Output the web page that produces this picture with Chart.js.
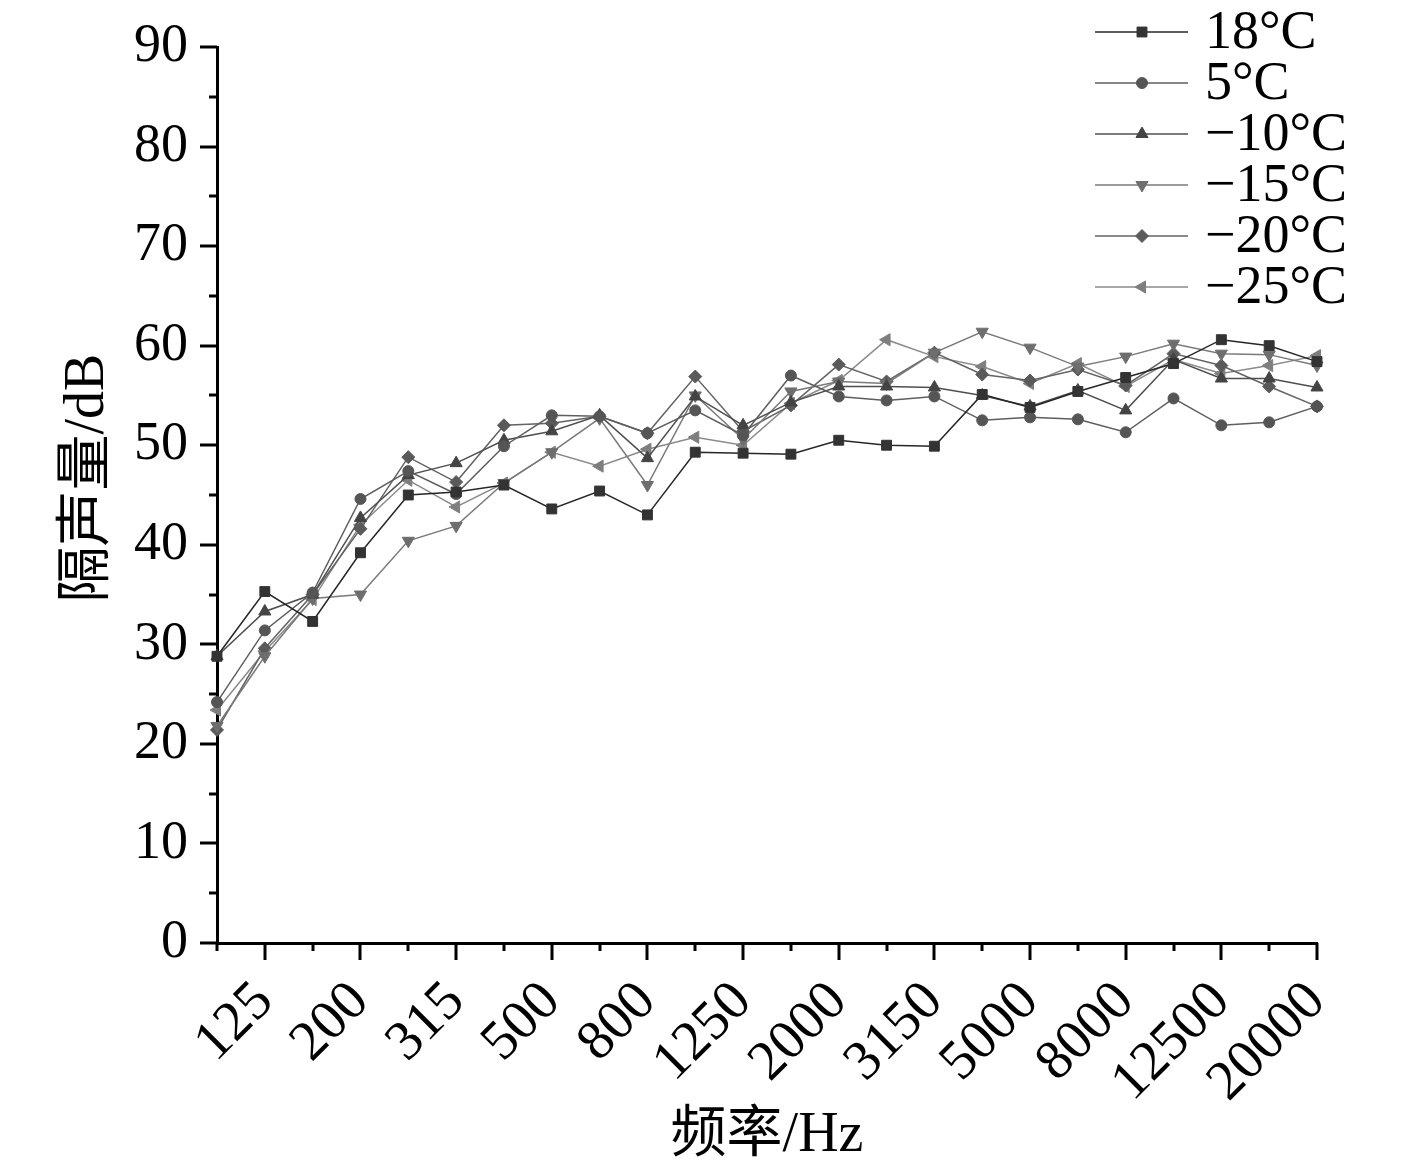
<!DOCTYPE html>
<html>
<head>
<meta charset="utf-8">
<script src="https://cdn.jsdelivr.net/npm/chart.js@4/dist/chart.umd.min.js"></script>
<style>
  body { margin: 0; background: #fff; }
  canvas { display: block; }
</style>
</head>
<body>
<canvas id="c" width="1417" height="1175"></canvas>
<script>
// 1/3 倍频程中心频率
const freqLabels = ['100','125','160','200','250','315','400','500','630','800','1000','1250',
  '1600','2000','2500','3150','4000','5000','6300','8000','10000','12500','16000','20000'];

// 隔声量 (dB)
const t18  = [28.8,35.3,32.3,39.2,45.0,45.3,46.0,43.6,45.4,43.0,49.3,49.2,49.1,50.5,50.0,49.9,55.1,53.8,55.4,56.8,58.2,60.6,60.0,58.4];
const t5   = [24.2,31.4,35.2,44.6,47.4,45.1,49.9,53.0,52.9,51.2,53.5,51.0,57.0,54.9,54.5,54.9,52.5,52.8,52.6,51.3,54.7,52.0,52.3,53.9];
const tm10 = [28.8,33.3,35.0,42.7,47.0,48.2,50.5,51.4,53.0,48.7,54.9,52.0,54.3,55.9,55.9,55.8,55.0,53.9,55.5,53.5,58.6,56.7,56.7,55.8];
const tm15 = [21.8,28.8,34.6,35.0,40.4,41.9,46.2,49.3,52.7,46.0,55.0,50.6,55.4,56.4,56.2,59.3,61.4,59.8,57.9,58.9,60.2,59.2,59.1,58.0];
const tm20 = [21.4,29.6,35.0,41.6,48.8,46.3,52.0,52.2,52.9,51.2,56.9,51.4,54.0,58.1,56.4,59.3,57.1,56.5,57.6,56.0,59.2,58.0,55.9,53.9];
const tm25 = [23.4,29.3,34.5,42.0,46.5,43.8,46.2,49.3,47.9,49.6,50.8,50.0,54.2,56.5,60.6,58.9,57.9,56.2,58.2,55.9,58.6,57.2,58.0,59.0];

const seriesNames = ['18°C', '5°C', '\u221210°C', '\u221215°C', '\u221220°C', '\u221225°C'];

const FONT = '"Liberation Serif", "Times New Roman", "Noto Sans CJK SC", serif';

function makeSet(label, data, line, fill, style, radius, rotation) {
  return {
    label: label,
    data: data,
    borderColor: line,
    borderWidth: 1.5,
    pointStyle: style,
    pointRadius: radius,
    pointRotation: rotation || 0,
    pointBackgroundColor: fill,
    pointBorderColor: fill,
    pointBorderWidth: 1,
    tension: 0
  };
}

// 手画刻度（主刻度长、次刻度短）
const axisTicks = {
  id: 'axisTicks',
  afterDraw(chart) {
    const ctx = chart.ctx;
    const x = chart.scales.x, y = chart.scales.y;
    const area = chart.chartArea;
    ctx.save();
    ctx.strokeStyle = '#000';
    ctx.lineWidth = 3;
    for (let v = 0; v <= 90; v += 5) {
      const py = Math.round(y.getPixelForValue(v));
      const len = v % 10 === 0 ? 17 : 8;
      ctx.beginPath();
      ctx.moveTo(area.left, py);
      ctx.lineTo(area.left - len, py);
      ctx.stroke();
    }
    freqLabels.forEach((f, i) => {
      const px = Math.round(x.getPixelForValue(i));
      const len = i % 2 === 1 ? 17 : 8;
      ctx.beginPath();
      ctx.moveTo(px, area.bottom);
      ctx.lineTo(px, area.bottom + len);
      ctx.stroke();
    });
    // y 轴标题
    ctx.fillStyle = '#000';
    ctx.font = '56px ' + FONT;
    ctx.textAlign = 'center';
    ctx.textBaseline = 'middle';
    ctx.translate(88, 478);
    ctx.rotate(-Math.PI / 2);
    ctx.fillText('隔声量/dB', 0, 0);
    ctx.restore();
  }
};

// 图例：线 + 标记 + 文字
const lineLegend = {
  id: 'lineLegend',
  afterDraw(chart) {
    const ctx = chart.ctx;
    ctx.save();
    chart.data.datasets.forEach((ds, i) => {
      const cy = 32 + i * 51;
      ctx.strokeStyle = ds.borderColor;
      ctx.lineWidth = 1.5;
      ctx.beginPath();
      ctx.moveTo(1095, cy);
      ctx.lineTo(1188, cy);
      ctx.stroke();
      ctx.fillStyle = ds.pointBackgroundColor;
      ctx.strokeStyle = ds.pointBorderColor;
      ctx.lineWidth = 1;
      Chart.helpers.drawPoint(ctx, {
        pointStyle: ds.pointStyle,
        radius: ds.pointRadius,
        rotation: ds.pointRotation,
        borderWidth: 1
      }, 1142, cy);
      ctx.fillStyle = '#000';
      ctx.font = '54px ' + FONT;
      ctx.textAlign = 'left';
      ctx.textBaseline = 'middle';
      ctx.fillText(ds.label, 1205, cy + 2);
    });
    ctx.restore();
  }
};

new Chart(document.getElementById('c'), {
  type: 'line',
  data: {
    labels: freqLabels,
    datasets: [
      makeSet(seriesNames[0], t18,  '#262626', '#333333', 'rect', 7),
      makeSet(seriesNames[1], t5,   '#5e5e5e', '#555555', 'circle', 5.5),
      makeSet(seriesNames[2], tm10, '#4e4e4e', '#444444', 'triangle', 7),
      makeSet(seriesNames[3], tm15, '#7a7a7a', '#6e6e6e', 'triangle', 7, 180),
      makeSet(seriesNames[4], tm20, '#636363', '#5a5a5a', 'rectRot', 6.5),
      makeSet(seriesNames[5], tm25, '#8a8a8a', '#7e7e7e', 'triangle', 7, -90)
    ]
  },
  options: {
    responsive: false,
    animation: false,
    layout: { padding: { left: 0, top: 47, right: 100, bottom: 0 } },
    plugins: {
      legend: { display: false },
      tooltip: { enabled: false }
    },
    scales: {
      x: {
        type: 'category',
        offset: false,
        grid: { display: false, drawTicks: true, tickLength: 17 },
        border: { display: true, color: '#000', width: 3 },
        ticks: {
          autoSkip: false,
          minRotation: 45,
          maxRotation: 45,
          padding: 24,
          color: '#000',
          font: { family: FONT, size: 56, lineHeight: 0.45 },
          callback: (v, i) => (i % 2 === 1 ? freqLabels[i] : '')
        },
        title: {
          display: true,
          text: '频率/Hz',
          color: '#000',
          font: { family: FONT, size: 56 },
          padding: { top: 0, bottom: 5 }
        },
        afterFit(scale) { scale.height = 232; }
      },
      y: {
        min: 0,
        max: 90,
        grid: { display: false, drawTicks: true, tickLength: 17 },
        border: { display: true, color: '#000', width: 3 },
        ticks: {
          stepSize: 10,
          padding: 12,
          color: '#000',
          font: { family: FONT, size: 54 }
        },
        afterFit(scale) { scale.width = 217; }
      }
    }
  },
  plugins: [axisTicks, lineLegend]
});
</script>
</body>
</html>
